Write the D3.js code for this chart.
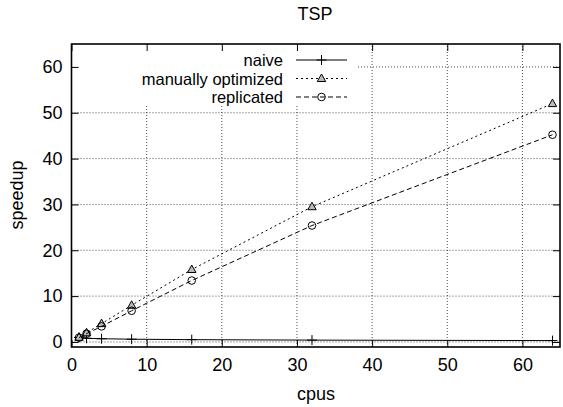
<!DOCTYPE html>
<html><head><meta charset="utf-8">
<script src="https://cdn.jsdelivr.net/npm/d3@7"></script>
<style>body{margin:0;background:#fff}text{font-family:"Liberation Sans",Arial,sans-serif;fill:#000}</style>
</head><body>
<svg id="c" width="563" height="407"></svg>
<script>
const cpus = [1, 2, 4, 8, 16, 32, 64];
const naive = [1, 0.8, 0.7, 0.6, 0.5, 0.4, 0.3];
const manual = [1, 2, 4, 8, 15.8, 29.5, 52];
const replicated = [0.95, 1.8, 3.4, 6.8, 13.4, 25.4, 45.2];
const xTicks = [0, 10, 20, 30, 40, 50, 60];
const yTicks = [0, 10, 20, 30, 40, 50, 60];
const seriesNames = ["naive", "manually optimized", "replicated"];

const FS = "18px";
const svg = d3.select("#c");
const L = 71.5, R = 560, T = 44, B = 347;
const x = d3.scaleLinear().domain([0, 65]).range([L, R]);
const y = d3.scaleLinear().domain([-1.1, 65]).range([B, T]);

const legBox = {x0: L, x1: 358, y0: T, y1: 106};

const g = svg.append("g");
xTicks.forEach(t => {
  const xx = x(t);
  if (t === 0) return;
  const top = (xx < legBox.x1) ? legBox.y1 : T;
  g.append("line").attr("x1", xx).attr("x2", xx).attr("y1", B).attr("y2", top)
    .attr("stroke", "#000").attr("stroke-width", 0.7).attr("stroke-dasharray", "1,2");
});
yTicks.forEach(t => {
  const yy = y(t);
  const left = (yy < legBox.y1) ? legBox.x1 : L;
  g.append("line").attr("x1", left).attr("x2", R).attr("y1", yy).attr("y2", yy)
    .attr("stroke", "#000").attr("stroke-width", 0.7).attr("stroke-dasharray", "1,2");
});

const xAxisB = d3.axisBottom(x).tickValues(xTicks).tickSize(-7).tickPadding(11);
const xAxisT = d3.axisTop(x).tickValues(xTicks).tickSize(-7).tickFormat("");
const yAxisL = d3.axisLeft(y).tickValues(yTicks).tickSize(-7).tickPadding(9);
const yAxisR = d3.axisRight(y).tickValues(yTicks).tickSize(-7).tickFormat("");
function style(sel) {
  sel.select(".domain").remove();
  sel.selectAll("line").attr("stroke", "#000").attr("stroke-width", 1);
  sel.selectAll("text").style("font-size", FS).style("font-family", "Liberation Sans, Arial, sans-serif").attr("fill", "#000");
}
svg.append("g").attr("transform", `translate(0,${B})`).call(xAxisB).call(style);
svg.append("g").attr("transform", `translate(0,${T})`).call(xAxisT).call(style);
svg.append("g").attr("transform", `translate(${L},0)`).call(yAxisL).call(style);
svg.append("g").attr("transform", `translate(${R},0)`).call(yAxisR).call(style);

svg.append("rect").attr("x", L).attr("y", T).attr("width", R - L).attr("height", B - T)
  .attr("fill", "none").attr("stroke", "#000").attr("stroke-width", 1.6);

svg.append("text").attr("x", 315).attr("y", 20).attr("text-anchor", "middle").style("font-size", FS).text("TSP");
svg.append("text").attr("x", 316).attr("y", 400).attr("text-anchor", "middle").style("font-size", FS).text("cpus");
svg.append("text").attr("transform", "translate(23,195) rotate(-90)").attr("text-anchor", "middle").style("font-size", FS).text("speedup");

const dashes = [null, "2,3", "5,3"];
const data = [naive, manual, replicated];
const line = d3.line().x((d, i) => x(cpus[i])).y(d => y(d));

function marker(sel, k, cx, cy) {
  if (k === 0) {
    sel.append("path").attr("d", `M${cx-5},${cy}H${cx+5}M${cx},${cy-5}V${cy+5}`).attr("stroke", "#000").attr("stroke-width", 1);
  } else if (k === 1) {
    sel.append("path").attr("d", `M${cx},${cy-4.5}L${cx+4.2},${cy+3}L${cx-4.2},${cy+3}Z`)
      .attr("fill", "#bbb").attr("stroke", "#000").attr("stroke-width", 1);
  } else {
    sel.append("circle").attr("cx", cx).attr("cy", cy).attr("r", 3.8).attr("fill", "none").attr("stroke", "#000").attr("stroke-width", 1);
  }
}

data.forEach((vals, k) => {
  const p = svg.append("path").datum(vals).attr("d", line).attr("fill", "none")
    .attr("stroke", "#000").attr("stroke-width", 1);
  if (dashes[k]) p.attr("stroke-dasharray", dashes[k]);
  vals.forEach((v, i) => marker(svg, k, x(cpus[i]), y(v)));
});

const legY = [60, 78.5, 97];
seriesNames.forEach((n, k) => {
  svg.append("text").attr("x", 283).attr("y", legY[k] + 6).attr("text-anchor", "end").style("font-size", "16.5px").text(n);
  const l = svg.append("line").attr("x1", 296).attr("x2", 347).attr("y1", legY[k]).attr("y2", legY[k])
    .attr("stroke", "#000").attr("stroke-width", 1);
  if (dashes[k]) l.attr("stroke-dasharray", dashes[k]);
  marker(svg, k, 321.5, legY[k]);
});
</script>
</body></html>
